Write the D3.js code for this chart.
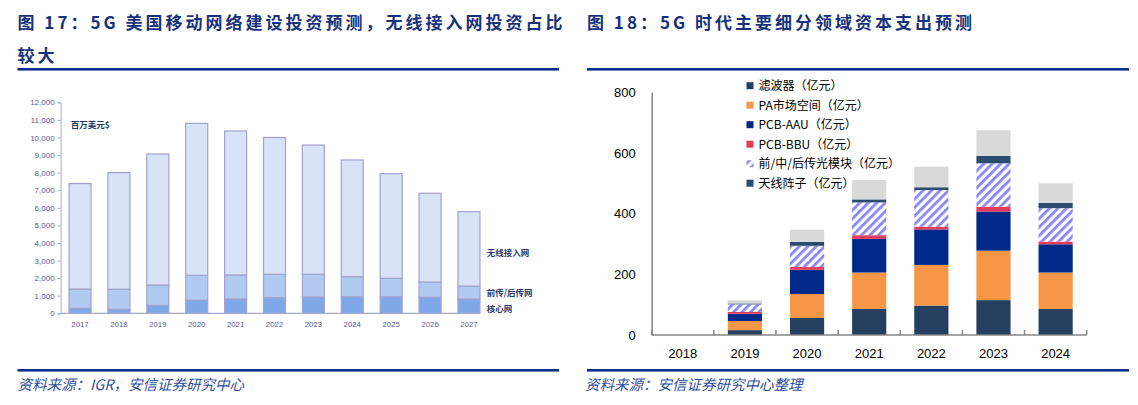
<!DOCTYPE html>
<html><head><meta charset="utf-8">
<script src="https://cdn.jsdelivr.net/npm/d3@7"></script>
<style>
body{margin:0;background:#fff;}
svg{display:block;font-family:"Noto Sans CJK SC","Liberation Sans",sans-serif;}
</style></head><body>
<svg id="c" width="1138" height="405"></svg>
<script>
// ---------- Figure 17 data (百万美元) ----------
const years17 = ["2017","2018","2019","2020","2021","2022","2023","2024","2025","2026","2027"];
const coreNet = [280, 230, 450, 740, 810, 890, 930, 940, 940, 910, 810];
const transportNet = [1100, 1140, 1160, 1420, 1370, 1330, 1290, 1140, 1050, 870, 740];
const ranNet = [6000, 6630, 7450, 8640, 8190, 7780, 7350, 6640, 5950, 5050, 4230];
const leftSeriesNames = ["核心网", "前传/后传网", "无线接入网"];
const leftTicks = [0,1000,2000,3000,4000,5000,6000,7000,8000,9000,10000,11000,12000];

// ---------- Figure 18 data (亿元) ----------
const years18 = ["2018","2019","2020","2021","2022","2023","2024"];
const filterVals   = [0, 16, 56, 86, 97, 115, 86];
const paVals       = [0, 30, 79, 120, 134, 163, 120];
const aauVals      = [0, 24, 80, 111, 117, 129, 93];
const bbuVals      = [0, 6, 9, 12, 9, 16, 9];
const opticalVals  = [0, 25, 70, 108, 121, 143, 110];
const antennaVals  = [0, 3, 13, 10, 9, 24, 18];
const otherVals    = [0, 11, 40, 64, 68, 85, 64];
const rightSeriesNames = ["滤波器（亿元）","PA市场空间（亿元）","PCB-AAU（亿元）","PCB-BBU（亿元）","前/中/后传光模块（亿元）","天线阵子（亿元）","其他"];
const rightTicks = [0, 200, 400, 600, 800];

const svg = d3.select("#c");
const titleColor = "#17327d", ruleColor = "#0a2f8c", srcColor = "#2f4f9f";

// ---------- headers ----------
function header(x, lines, x2) {
  lines.forEach((t, i) => {
    svg.append("text").attr("x", x).attr("y", 29 + i * 33)
      .attr("font-size", 17).attr("font-weight", 700).attr("fill", titleColor)
      .attr("letter-spacing", 3).text(t);
  });
  svg.append("rect").attr("x", x).attr("y", 68).attr("width", x2 - x).attr("height", 2.6).attr("fill", ruleColor);
  svg.append("rect").attr("x", x).attr("y", 369).attr("width", x2 - x).attr("height", 2.6).attr("fill", ruleColor);
}
header(17.5, ["图 17：5G 美国移动网络建设投资预测，无线接入网投资占比", "较大"], 559);
header(587, ["图 18：5G 时代主要细分领域资本支出预测"], 1129);
svg.append("text").attr("x", 17.5).attr("y", 390).attr("font-size", 14.5).attr("font-style", "italic")
  .attr("fill", srcColor).text("资料来源：IGR，安信证券研究中心");
svg.append("text").attr("x", 585).attr("y", 390).attr("font-size", 14.5).attr("font-style", "italic")
  .attr("fill", srcColor).text("资料来源：安信证券研究中心整理");

// ---------- Left chart ----------
{
  const g = svg.append("g");
  const x = d3.scaleBand().domain(years17).range([60.6, 488.4]).paddingInner(0.434).paddingOuter(0.217);
  const y = d3.scaleLinear().domain([0, 12000]).range([313.3, 102.3]);
  const rows = years17.map((yr, i) => ({year: yr, core: coreNet[i], trans: transportNet[i], ran: ranNet[i]}));
  const stack = d3.stack().keys(["core", "trans", "ran"])(rows);
  const fills = ["#7ea8e8", "#b1caf2", "#d8e3f8"];
  stack.forEach((s, si) => {
    g.selectAll(null).data(s).enter().append("rect")
      .attr("x", d => x(d.data.year)).attr("width", x.bandwidth())
      .attr("y", d => y(d[1])).attr("height", d => y(d[0]) - y(d[1]))
      .attr("fill", fills[si]).attr("stroke", "#a2a2cf").attr("stroke-width", 1.2);
  });
  const ya = g.append("g").attr("transform", "translate(60.6,0)")
    .call(d3.axisLeft(y).tickValues(leftTicks).tickFormat(d3.format(",")).tickSize(3).tickPadding(3));
  ya.select(".domain").attr("stroke", "#a8a8d0");
  ya.selectAll(".tick line").attr("stroke", "#a8a8d0");
  ya.selectAll("text").attr("font-family", "Liberation Sans").attr("font-size", 8).attr("fill", "#5b5b8f");
  g.append("line").attr("x1", 60.6).attr("x2", 480).attr("y1", 313.3).attr("y2", 313.3)
    .attr("stroke", "#a8a8d0").attr("stroke-width", 1.2);
  g.selectAll(null).data(years17).enter().append("text")
    .attr("x", d => x(d) + x.bandwidth() / 2).attr("y", 327).attr("text-anchor", "middle")
    .attr("font-family", "Liberation Sans").attr("font-size", 7.8).attr("fill", "#5b5b8f").text(d => d);
  g.append("text").attr("x", 70.7).attr("y", 127.5).attr("font-size", 8.5).attr("font-weight", 700)
    .attr("fill", "#1f3864").text("百万美元$");
  const labY = [312.3, 295.7, 256.3];
  leftSeriesNames.forEach((n, i) => {
    g.append("text").attr("x", 486.7).attr("y", labY[i]).attr("font-size", 8.5).attr("font-weight", 700)
      .attr("fill", "#2b3a67").text(n);
  });
}

// ---------- Right chart ----------
{
  const g = svg.append("g");
  const defs = svg.append("defs");
  const pat = defs.append("pattern").attr("id", "hatch").attr("patternUnits", "userSpaceOnUse")
    .attr("width", 6).attr("height", 6).attr("patternTransform", "rotate(45)");
  pat.append("rect").attr("width", 6).attr("height", 6).attr("fill", "#ffffff");
  pat.append("rect").attr("x", 0).attr("width", 2.8).attr("height", 6).attr("fill", "#8787f5");

  const x = d3.scaleBand().domain(years18).range([651.7, 1086.7]).paddingInner(0.45).paddingOuter(0.225);
  const y = d3.scaleLinear().domain([0, 800]).range([335, 92.3]);
  const keys = ["filter", "pa", "aau", "bbu", "optical", "antenna", "other"];
  const rows = years18.map((yr, i) => ({year: yr, filter: filterVals[i], pa: paVals[i], aau: aauVals[i],
    bbu: bbuVals[i], optical: opticalVals[i], antenna: antennaVals[i], other: otherVals[i]}));
  const stack = d3.stack().keys(keys)(rows);
  const fills = ["#253f61", "#f79646", "#00298a", "#e63a5a", "url(#hatch)", "#2b4b70", "#d9d9d9"];
  stack.forEach((s, si) => {
    g.selectAll(null).data(s).enter().append("rect")
      .attr("x", d => x(d.data.year)).attr("width", x.bandwidth())
      .attr("y", d => y(d[1])).attr("height", d => y(d[0]) - y(d[1]))
      .attr("fill", fills[si]);
  });
  const ya = g.append("g").attr("transform", "translate(651.7,0)")
    .call(d3.axisLeft(y).tickValues(rightTicks).tickSize(0).tickPadding(16).tickSizeOuter(0));
  ya.select(".domain").attr("stroke", "#868686").attr("stroke-width", 1.5);
  ya.selectAll("text").attr("font-family", "Liberation Sans").attr("font-size", 13).attr("fill", "#000");
  g.append("line").attr("x1", 651.7).attr("x2", 1086.7).attr("y1", 335).attr("y2", 335)
    .attr("stroke", "#868686").attr("stroke-width", 1.5);
  const step = x.step();
  g.selectAll(null).data(d3.range(years18.length + 1)).enter().append("line")
    .attr("x1", i => 651.7 + i * step).attr("x2", i => 651.7 + i * step)
    .attr("y1", 330).attr("y2", 335).attr("stroke", "#868686").attr("stroke-width", 1.5);
  g.selectAll(null).data(years18).enter().append("text")
    .attr("x", d => x(d) + x.bandwidth() / 2).attr("y", 358.3).attr("text-anchor", "middle")
    .attr("font-family", "Liberation Sans").attr("font-size", 13).attr("fill", "#000").text(d => d);
  // legend (first six series)
  rightSeriesNames.slice(0, 6).forEach((n, i) => {
    const cy = 85.7 + i * 19.5;
    g.append("rect").attr("x", 746.5).attr("y", cy - 3.5).attr("width", 7).attr("height", 7).attr("fill", fills[i]);
    g.append("text").attr("x", 758.5).attr("y", cy + 4.3).attr("font-size", 12).attr("fill", "#000").text(n);
  });
}
</script>
</body></html>
